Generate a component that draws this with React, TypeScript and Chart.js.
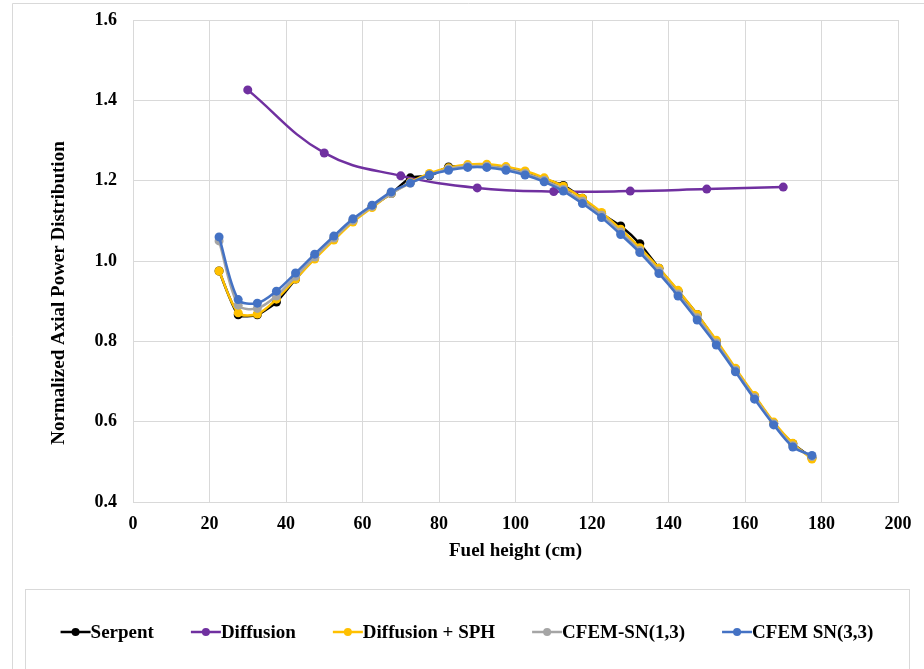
import React, { useEffect, useRef } from "react";
import { Chart, registerables } from "chart.js";

Chart.register(...registerables);

// ---- data ----
const heights = [
  22.5, 27.5, 32.5, 37.5, 42.5, 47.5, 52.5, 57.5, 62.5, 67.5, 72.5, 77.5, 82.5, 87.5, 92.5, 97.5,
  102.5, 107.5, 112.5, 117.5, 122.5, 127.5, 132.5, 137.5, 142.5, 147.5, 152.5, 157.5, 162.5, 167.5, 172.5, 177.5,
];
const serpent = [
  0.975, 0.866, 0.866, 0.898, 0.955, 1.008, 1.055, 1.1, 1.136, 1.168, 1.207, 1.212, 1.234, 1.236, 1.236, 1.232,
  1.222, 1.204, 1.188, 1.156, 1.118, 1.087, 1.043, 0.982, 0.925, 0.867, 0.8, 0.73, 0.663, 0.596, 0.545, 0.51,
];
const diffusionHeights = [30, 50, 70, 90, 110, 130, 150, 170];
const diffusion = [1.426, 1.269, 1.212, 1.182, 1.173, 1.174, 1.179, 1.184];
const diffusionSPH = [
  0.975, 0.871, 0.868, 0.905, 0.955, 1.005, 1.052, 1.097, 1.133, 1.168, 1.196, 1.218, 1.232, 1.24, 1.241, 1.235,
  1.224, 1.207, 1.186, 1.156, 1.121, 1.079, 1.033, 0.982, 0.927, 0.867, 0.803, 0.733, 0.665, 0.599, 0.546, 0.507,
];
const cfemSN13 = [
  1.05, 0.89, 0.882, 0.913, 0.962, 1.01, 1.057, 1.101, 1.136, 1.168, 1.194, 1.214, 1.229, 1.236, 1.236, 1.23,
  1.218, 1.201, 1.178, 1.149, 1.114, 1.072, 1.026, 0.975, 0.918, 0.859, 0.796, 0.728, 0.66, 0.595, 0.54, 0.513,
];
const cfemSN33 = [
  1.06, 0.904, 0.895, 0.925, 0.97, 1.017, 1.062, 1.105, 1.139, 1.172, 1.194, 1.214, 1.226, 1.233, 1.233, 1.226,
  1.214, 1.197, 1.174, 1.143, 1.108, 1.066, 1.021, 0.969, 0.913, 0.853, 0.791, 0.724, 0.656, 0.592, 0.537, 0.516,
];
const seriesNames = ["Serpent", "Diffusion", "Diffusion + SPH", "CFEM-SN(1,3)", "CFEM SN(3,3)"];
const seriesColors = ["#000000", "#7030A0", "#FFC000", "#A5A5A5", "#4472C4"];
const xTitle = "Fuel height (cm)";
const yTitle = "Normalized Axial Power Distribution";

const FONT = "'Liberation Serif', 'Times New Roman', serif";

const toPts = (xs: number[], ys: number[]) => xs.map((x, i) => ({ x, y: ys[i] }));

const decorPlugin = {
  id: "decor",
  beforeDraw(chart: any) {
    const ctx = chart.ctx as CanvasRenderingContext2D;
    ctx.save();
    ctx.fillStyle = "#ffffff";
    ctx.fillRect(0, 0, chart.width, chart.height);
    ctx.strokeStyle = "#D9D9D9";
    ctx.lineWidth = 1;
    ctx.beginPath();
    ctx.moveTo(12.5, chart.height + 2);
    ctx.lineTo(12.5, 3.5);
    ctx.lineTo(chart.width + 2, 3.5);
    ctx.stroke();
    ctx.restore();
  },
  afterDraw(chart: any) {
    const ctx = chart.ctx as CanvasRenderingContext2D;
    ctx.save();
    // y axis title
    ctx.fillStyle = "#000";
    ctx.font = `bold 19px ${FONT}`;
    ctx.textAlign = "center";
    ctx.textBaseline = "middle";
    ctx.translate(59, 293);
    ctx.rotate(-Math.PI / 2);
    ctx.fillText(yTitle, 0, 0);
    ctx.restore();

    // legend box
    ctx.save();
    ctx.strokeStyle = "#D9D9D9";
    ctx.lineWidth = 1;
    ctx.strokeRect(25.5, 589.5, 884, 120);
    ctx.font = `bold 19px ${FONT}`;
    ctx.textBaseline = "middle";
    ctx.textAlign = "left";
    const ds = chart.data.datasets;
    const markerW = 30;
    const gap = 37;
    const widths = ds.map((d: any) => markerW + ctx.measureText(d.label).width);
    const total = widths.reduce((a: number, b: number) => a + b, 0) + gap * (ds.length - 1);
    let x = 467 - total / 2;
    const y = 632;
    ds.forEach((d: any, i: number) => {
      ctx.strokeStyle = d.borderColor;
      ctx.fillStyle = d.borderColor;
      ctx.lineWidth = 2.5;
      ctx.beginPath();
      ctx.moveTo(x, y);
      ctx.lineTo(x + markerW, y);
      ctx.stroke();
      ctx.beginPath();
      ctx.arc(x + markerW / 2, y, 4, 0, Math.PI * 2);
      ctx.fill();
      ctx.fillStyle = "#000";
      ctx.fillText(d.label, x + markerW, y + 1);
      x += widths[i] + gap;
    });
    ctx.restore();
  },
};

export default function App() {
  const ref = useRef<HTMLCanvasElement | null>(null);
  useEffect(() => {
    if (!ref.current) return;
    const mk = (i: number, xs: number[], ys: number[], order: number, tension: number) => ({
      label: seriesNames[i],
      data: toPts(xs, ys),
      borderColor: seriesColors[i],
      backgroundColor: seriesColors[i],
      pointBackgroundColor: seriesColors[i],
      pointBorderColor: seriesColors[i],
      borderWidth: 2.5,
      pointRadius: 4.5,
      pointBorderWidth: 0,
      tension,
      order,
    });
    const chart = new Chart(ref.current, {
      type: "line",
      data: {
        datasets: [
          mk(0, heights, serpent, 5, 0.2),
          mk(1, diffusionHeights, diffusion, 4, 0.4),
          mk(2, heights, diffusionSPH, 3, 0.3),
          mk(3, heights, cfemSN13, 2, 0.3),
          mk(4, heights, cfemSN33, 1, 0.3),
        ] as any,
      },
      options: {
        animation: false,
        responsive: false,
        events: [],
        layout: { padding: { left: 0, right: 26, top: 20, bottom: 107 } },
        plugins: { legend: { display: false }, tooltip: { enabled: false } },
        scales: {
          x: {
            type: "linear",
            min: 0,
            max: 200,
            ticks: {
              stepSize: 20,
              padding: 12,
              color: "#000",
              font: { family: FONT, size: 18, weight: "bold" },
            },
            grid: { color: "#D9D9D9", drawTicks: false },
            border: { color: "#D9D9D9" },
            title: {
              display: true,
              text: xTitle,
              color: "#000",
              font: { family: FONT, size: 19, weight: "bold" },
              padding: 0,
            },
            afterFit: (s: any) => {
              s.height = 60;
              s.paddingLeft = 0;
              s.paddingRight = 0;
            },
          },
          y: {
            type: "linear",
            min: 0.4,
            max: 1.6,
            ticks: {
              stepSize: 0.2,
              padding: 16,
              color: "#000",
              font: { family: FONT, size: 18, weight: "bold" },
              callback: (v: any) => Number(v).toFixed(1),
            },
            grid: { color: "#D9D9D9", drawTicks: false },
            border: { color: "#D9D9D9" },
            afterFit: (s: any) => {
              s.width = 133;
              s.paddingTop = 0;
              s.paddingBottom = 0;
            },
          },
        },
      } as any,
      plugins: [decorPlugin],
    });
    return () => chart.destroy();
  }, []);
  return (
    <div style={{ position: "absolute", left: 0, top: 0, width: 924, height: 669 }}>
      <canvas ref={ref} width={924} height={669} style={{ display: "block", width: 924, height: 669 }} />
    </div>
  );
}
